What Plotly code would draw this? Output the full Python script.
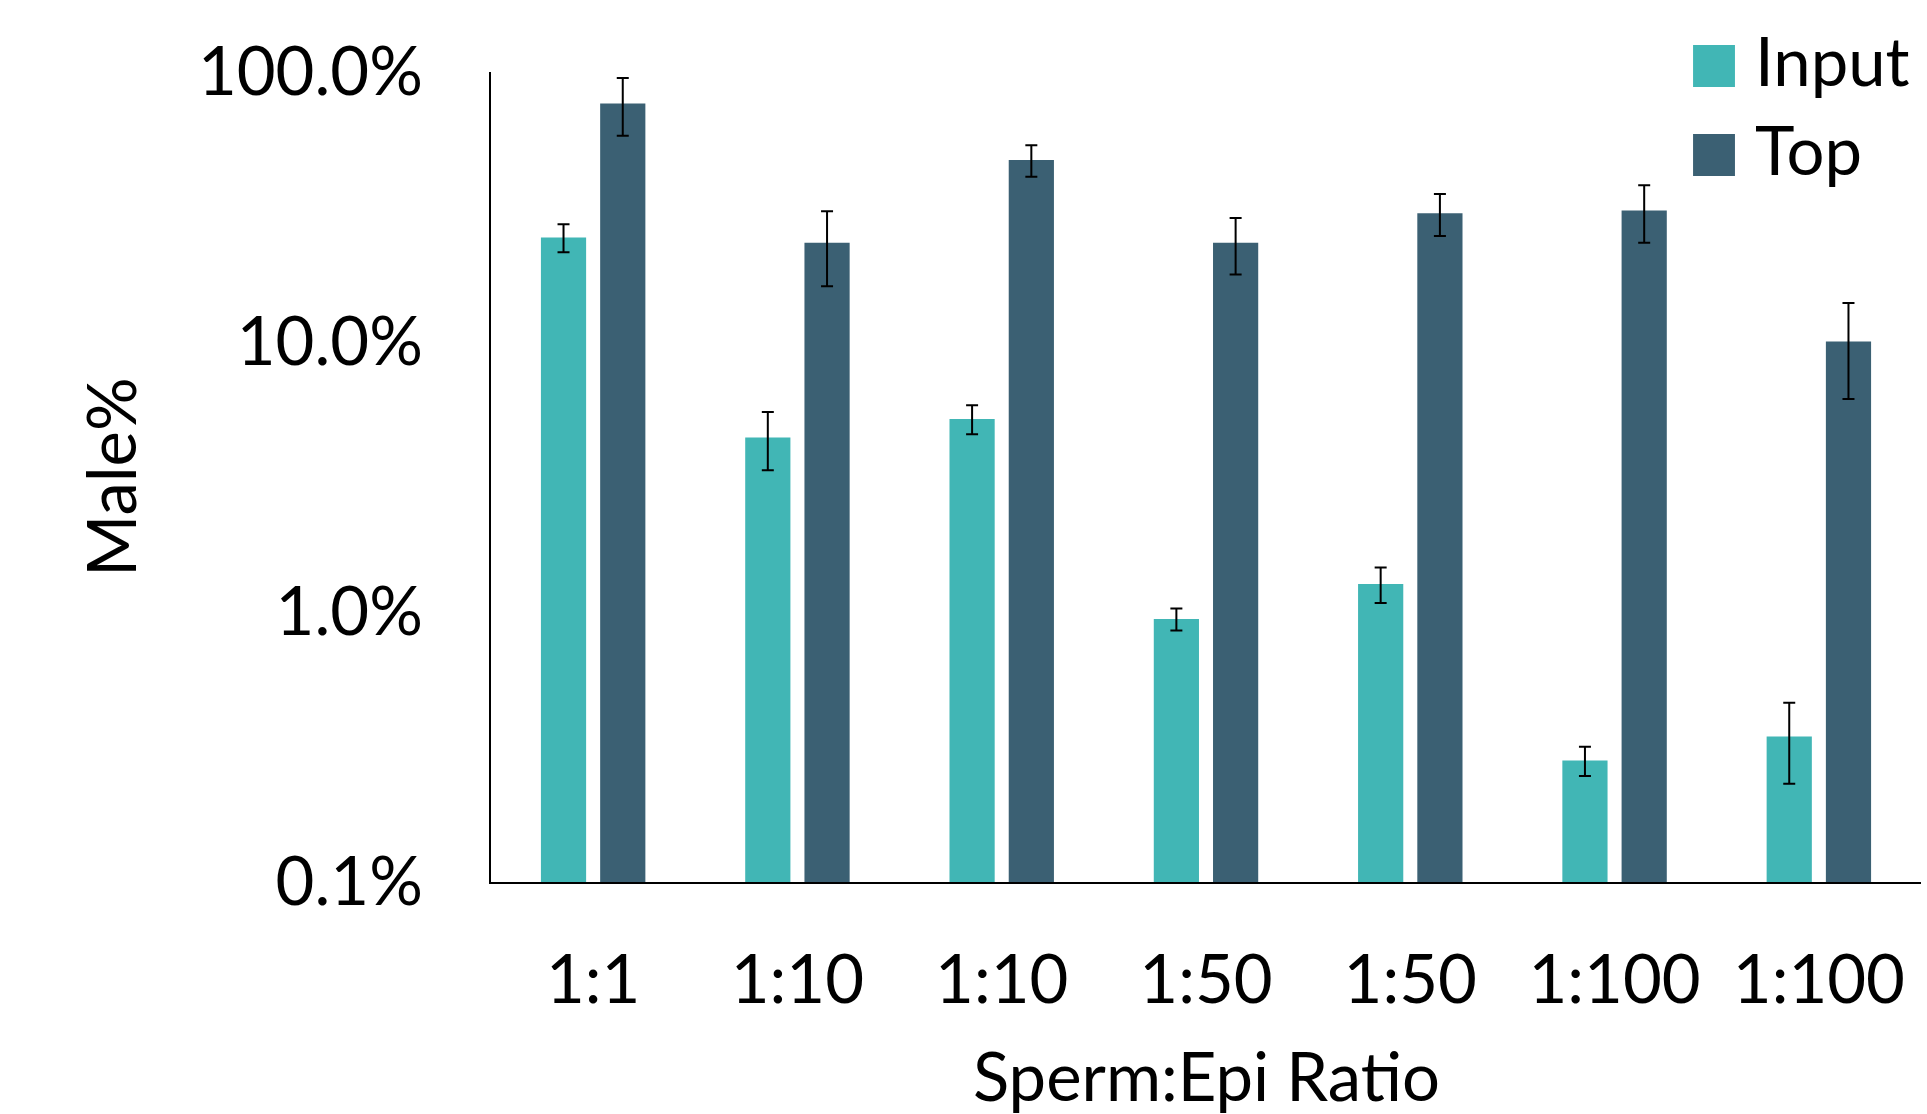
import plotly.graph_objects as go

# ---- data ----
categories = ["1:1", "1:10", "1:10", "1:50", "1:50", "1:100", "1:100"]
input_vals = [24.4, 4.43, 5.19, 0.942, 1.27, 0.282, 0.346]
input_err = [2.9, 1.08, 0.64, 0.088, 0.19, 0.035, 0.115]
top_vals = [76.5, 23.3, 47.2, 23.3, 30.0, 30.7, 10.05]
top_err = [18.5, 7.2, 6.3, 5.5, 5.3, 7.4, 3.9]
series_names = ["Input", "Top"]
y_tickvals = [0.1, 1, 10, 100]
y_ticktext = ["0.1%", "1.0%", "10.0%", "100.0%"]
x_title = "Sperm:Epi Ratio"
y_title = "Male%"

INPUT_COLOR = "#41B6B5"
TOP_COLOR = "#3B6073"
FONT = "Lato"
FS = 67

xpos = list(range(len(categories)))

fig = go.Figure()
fig.add_trace(go.Bar(
    x=xpos, y=input_vals, name=series_names[0],
    marker=dict(color=INPUT_COLOR, line=dict(width=0)),
    error_y=dict(type="data", array=input_err, visible=True,
                 color="black", thickness=2, width=6),
))
fig.add_trace(go.Bar(
    x=xpos, y=top_vals, name=series_names[1],
    marker=dict(color=TOP_COLOR, line=dict(width=0)),
    error_y=dict(type="data", array=top_err, visible=True,
                 color="black", thickness=2, width=6),
))

# custom legend (large swatches)
legend_items = [
    (series_names[0], INPUT_COLOR, 1.0333, 0.9815, 1.0154),
    (series_names[1], TOP_COLOR, 0.9235, 0.8716, 0.905),
]
shapes = []
annotations = []
for name, col, y1, y0, yt in legend_items:
    shapes.append(dict(type="rect", xref="paper", yref="paper",
                       x0=0.8406, x1=0.8699, y0=y0, y1=y1,
                       fillcolor=col, line=dict(width=0)))
    annotations.append(dict(text=name, xref="paper", yref="paper",
                            x=0.8825, y=yt, xanchor="left", yanchor="middle",
                            showarrow=False, font=dict(family=FONT, size=FS, color="black")))

# x-axis title placed precisely
annotations.append(dict(text=x_title, xref="paper", yref="paper",
                        x=0.5, y=-0.2383, xanchor="center", yanchor="middle",
                        showarrow=False, font=dict(family=FONT, size=FS, color="black")))

fig.update_layout(
    width=1927, height=1114,
    margin=dict(l=491, r=6, t=72, b=232, autoexpand=False),
    paper_bgcolor="white", plot_bgcolor="white",
    barmode="group", bargap=0.42, bargroupgap=0.237,
    showlegend=False,
    font=dict(family=FONT, size=FS, color="black"),
    shapes=shapes, annotations=annotations,
    xaxis=dict(
        tickmode="array", tickvals=xpos, ticktext=categories,
        range=[-0.5, len(categories) - 0.5],
        showgrid=False, zeroline=False, ticks="",
        showline=True, linecolor="black", linewidth=2,
        automargin=False,
        ticklabelstandoff=39,
        tickfont=dict(family=FONT, size=FS, color="black"),
    ),
    yaxis=dict(
        type="log", range=[-1, 2],
        tickmode="array", tickvals=y_tickvals, ticktext=y_ticktext,
        showgrid=False, zeroline=False, ticks="",
        showline=True, linecolor="black", linewidth=1.5,
        automargin=False,
        ticklabelstandoff=53,
        title=dict(text=y_title, standoff=39,
                   font=dict(family=FONT, size=FS, color="black")),
        tickfont=dict(family=FONT, size=FS, color="black"),
    ),
)

fig.write_html("out.html",
               config={"displayModeBar": False},
               post_script="document.body.style.margin='0';document.body.style.overflow='hidden';")
